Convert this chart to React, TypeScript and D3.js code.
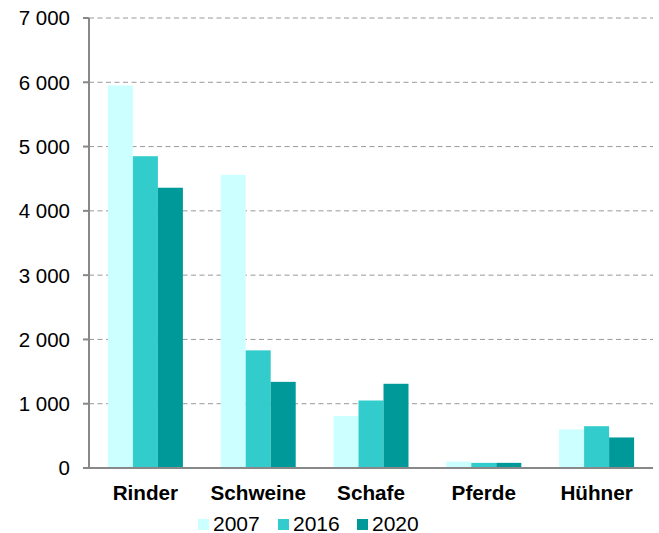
import React from "react";
import * as d3 from "d3";

const categories = ["Rinder", "Schweine", "Schafe", "Pferde", "Hühner"];
const seriesNames = ["2007", "2016", "2020"];
const values2007 = [5950, 4560, 810, 100, 600];
const values2016 = [4850, 1830, 1050, 80, 650];
const values2020 = [4360, 1340, 1310, 80, 475];
const yTicks = [0, 1000, 2000, 3000, 4000, 5000, 6000, 7000];
const colors = ["#CCFFFF", "#33CCCC", "#009999"];

const W = 659;
const H = 533;
const left = 89;
const right = 653;
const top = 18;
const bottom = 468;

const fmt = (v: number) => {
  const s = String(v);
  return s.length > 3 ? s.slice(0, s.length - 3) + " " + s.slice(-3) : s;
};

export default function App() {
  const series = [values2007, values2016, values2020];
  const x = d3.scaleBand<string>().domain(categories).range([left, right]).paddingInner(0.335).paddingOuter(0.1675);
  const xs = d3.scaleBand<string>().domain(seriesNames).range([0, x.bandwidth()]);
  const y = d3.scaleLinear().domain([0, 7000]).range([bottom, top]);
  const font = "Liberation Sans, Arial, sans-serif";
  const legendX = [198, 278, 357];
  return (
    <svg width={W} height={H} style={{ position: "absolute", left: 0, top: 0, background: "#fff" }} fontFamily={font}>
      {yTicks.filter((t) => t > 0).map((t) => (
        <line key={"g" + t} x1={left} x2={right} y1={y(t)} y2={y(t)} stroke="#999" strokeWidth={1} strokeDasharray="5,3.5" />
      ))}
      {categories.map((c, i) => (
        <g key={c}>
          {series.map((s, j) => (
            <rect
              key={j}
              x={(x(c) as number) + (xs(seriesNames[j]) as number)}
              y={y(s[i])}
              width={xs.bandwidth()}
              height={bottom - y(s[i])}
              fill={colors[j]}
            />
          ))}
          <text x={(x(c) as number) + x.bandwidth() / 2} y={499.5} textAnchor="middle" fontWeight="bold" fontSize={20.7}>
            {c}
          </text>
        </g>
      ))}
      <line x1={left} x2={left} y1={top} y2={bottom} stroke="#888" strokeWidth={2} />
      <line x1={left - 1} x2={right} y1={bottom} y2={bottom} stroke="#888" strokeWidth={2} />
      {yTicks.map((t) => (
        <g key={"t" + t}>
          <line x1={left - 6} x2={left} y1={y(t)} y2={y(t)} stroke="#888" strokeWidth={2} />
          <text x={70} y={y(t)} dy="0.36em" textAnchor="end" fontSize={20.5}>
            {fmt(t)}
          </text>
        </g>
      ))}
      {seriesNames.map((n, j) => (
        <g key={n}>
          <rect x={legendX[j]} y={519} width={11} height={11} fill={colors[j]} />
          <text x={legendX[j] + 15} y={530.5} fontSize={21}>
            {n}
          </text>
        </g>
      ))}
    </svg>
  );
}
